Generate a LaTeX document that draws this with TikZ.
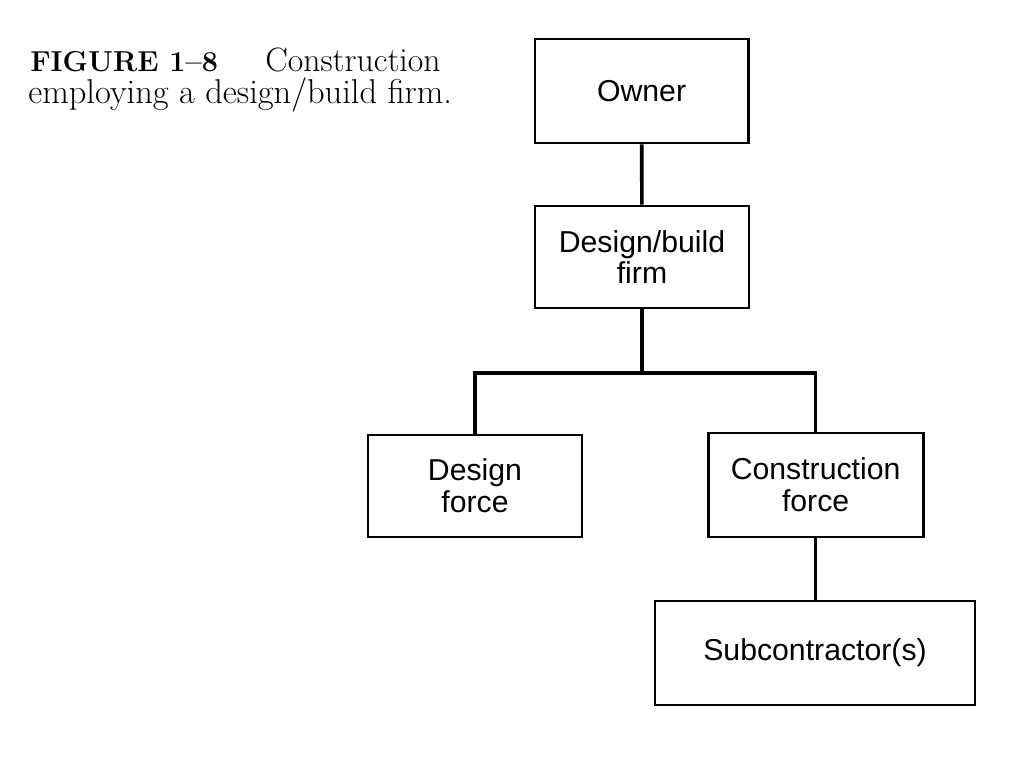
\documentclass[tikz,border=0pt]{standalone}
\usepackage{fontspec}
\newfontfamily\cajafont{Liberation Sans}
\tikzset{
  caja/.style={draw, line width=2pt, minimum width=5.35cm, minimum height=2.6cm,
    inner sep=0pt, align=center, font=\cajafont\fontsize{21.5}{22.5}\selectfont},
  linea/.style={line width=2.6pt}
}
\begin{document}
\begin{tikzpicture}
% Fijamos el tamano del dibujo para que tenga las proporciones de la figura.
\useasboundingbox (0,0) rectangle (25.6,19.2);

% Pie de figura, arriba a la izquierda
\node[anchor=base west, inner sep=0pt, font=\fontsize{24}{26}\selectfont] (pie1) at (0.75,17.4)
  {{\fontsize{20.5}{24}\selectfont\textbf{FIGURE 1--8}}\hspace{1.4em}Construction};
\node[anchor=base west, inner sep=0pt, font=\fontsize{24.5}{26}\selectfont] (pie2) at (0.7,16.6)
  {employing a design/build firm.};

% Las cajas del organigrama
\node[caja, minimum width=5.33cm] (owner) at (16.04,16.925) {Owner};
\node[caja, minimum height=2.55cm] (firma) at (16.05,12.775) {Design/build\\firm};
\node[caja, minimum height=2.55cm] (diseno) at (11.875,7.05) {Design\\force};
\node[caja, minimum width=5.375cm] (constr) at (20.39,7.075) {Construction\\force};
\node[caja, minimum width=8cm] (sub) at (20.375,2.875) {Subcontractor(s)};

% Lineas que unen las cajas
\coordinate (union) at (16.05,9.875);
\draw[linea] (owner) -- (firma);
\draw[linea] (firma) -- (union);
\draw[linea] (diseno.north) |- (union) -| (constr.north);
\draw[linea] (constr.south) -- (sub.north -| constr.south);
\end{tikzpicture}
\end{document}
